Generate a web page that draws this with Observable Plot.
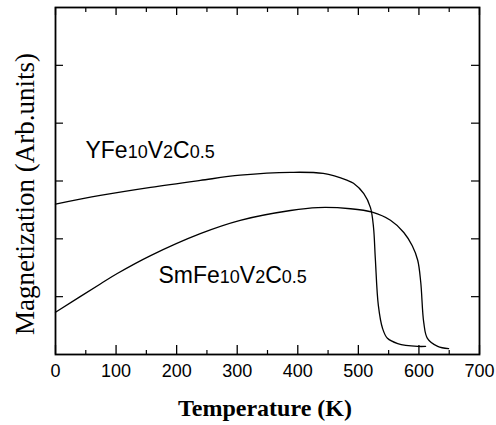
<!DOCTYPE html>
<html><head><meta charset="utf-8">
<script src="https://cdn.jsdelivr.net/npm/d3@7"></script>
<script src="https://cdn.jsdelivr.net/npm/@observablehq/plot@0.6"></script>
<style>body{margin:0;background:#fff}</style>
</head><body><div id="chart"></div>
<script>
// Temperature (K) and magnetization (arb. units)
const yfeT = [0, 74, 157, 239, 305, 388, 442, 482, 492, 509, 520, 525, 528, 533, 540, 548, 565, 598, 611];
const yfeM = [2.60, 2.75, 2.89, 3.01, 3.10, 3.15, 3.13, 3.01, 2.96, 2.78, 2.54, 2.20, 1.66, 0.85, 0.45, 0.28, 0.19, 0.14, 0.14];
const smT = [0, 74, 102, 157, 239, 305, 388, 433, 487, 523, 553, 575, 589, 598, 603, 608, 614, 631, 649];
const smM = [0.73, 1.22, 1.40, 1.71, 2.09, 2.32, 2.49, 2.54, 2.52, 2.46, 2.32, 2.11, 1.88, 1.63, 1.25, 0.55, 0.28, 0.14, 0.10];

const xMajor = [0, 100, 200, 300, 400, 500, 600, 700];
const xMinor = [50, 150, 250, 350, 450, 550, 650];
const yTicks = [1, 2, 3, 4, 5];

const labelNames = ["YFe10V2C0.5", "SmFe10V2C0.5"];
const labelParts = [
  [["YFe", 0], ["10", 1], ["V", 0], ["2", 1], ["C", 0], ["0.5", 1]],
  [["SmFe", 0], ["10", 1], ["V", 0], ["2", 1], ["C", 0], ["0.5", 1]]
];
const labelT = [49.5, 170];
const labelM = [3.53, 1.356];

const yfe = yfeT.map((t, i) => ({T: t, M: yfeM[i]}));
const sm = smT.map((t, i) => ({T: t, M: smM[i]}));
const labels = labelNames.map((n, i) => ({name: n, T: labelT[i], M: labelM[i]}));

const W = 496, H = 425, mL = 55, mR = 17, mT = 7, mB = 71;
const fw = W - mL - mR, fh = H - mT - mB;

const chart = Plot.plot({
  width: W, height: H,
  marginLeft: mL, marginRight: mR, marginTop: mT, marginBottom: mB,
  x: {domain: [0, 700]},
  y: {domain: [0, 6], axis: null},
  style: {background: "#fff", color: "#000"},
  marks: [
    Plot.frame({stroke: "#000", strokeWidth: 1.8}),
    // bottom ticks (inward)
    Plot.tickX(xMajor, {x: d => d, insetTop: fh - 9, stroke: "#000", strokeWidth: 1.3}),
    Plot.tickX(xMinor, {x: d => d, insetTop: fh - 4, stroke: "#000", strokeWidth: 1.2}),
    // top ticks (inward)
    Plot.tickX(xMajor, {x: d => d, insetBottom: fh - 8, stroke: "#000", strokeWidth: 1.3}),
    Plot.tickX(xMinor, {x: d => d, insetBottom: fh - 5, stroke: "#000", strokeWidth: 1.2}),
    // left and right ticks
    Plot.tickY(yTicks, {y: d => d, insetRight: fw - 8, stroke: "#000", strokeWidth: 1.2}),
    Plot.tickY(yTicks, {y: d => d, insetLeft: fw - 8, stroke: "#000", strokeWidth: 1.2}),
    Plot.axisX(xMajor, {tickSize: 0, tickPadding: 10, fontSize: 18, fontFamily: "Liberation Sans", tickFormat: d => String(d), label: null}),
    Plot.line(yfe, {x: "T", y: "M", curve: "catmull-rom", stroke: "#000", strokeWidth: 1.3}),
    Plot.line(sm, {x: "T", y: "M", curve: "catmull-rom", stroke: "#000", strokeWidth: 1.3}),
    Plot.text(labels, {x: "T", y: "M", text: "name", textAnchor: "start", fontSize: 23, fontFamily: "Liberation Sans", fill: "#000"}),
    Plot.text(["Magnetization (Arb.units)"], {frameAnchor: "left", textAnchor: "middle", lineAnchor: "middle", rotate: -90, dx: -30, dy: 13, fontSize: 27, fontFamily: "Liberation Serif", fill: "#000"}),
    Plot.text(["Temperature (K)"], {frameAnchor: "bottom", textAnchor: "middle", lineAnchor: "middle", dx: -2.5, dy: 53.6, fontSize: 24, fontWeight: "bold", fontFamily: "Liberation Serif", fill: "#000"})
  ]
});

// render chemical formula subscripts as smaller digits
d3.select(chart).selectAll("text").each(function() {
  const idx = labelNames.indexOf(this.textContent);
  if (idx < 0) return;
  const sel = d3.select(this);
  sel.text(null);
  labelParts[idx].forEach(([s, sub]) => {
    const ts = sel.append("tspan").text(s);
    if (sub) ts.attr("font-size", 18);
  });
});

document.getElementById("chart").appendChild(chart);
</script>
</body></html>
